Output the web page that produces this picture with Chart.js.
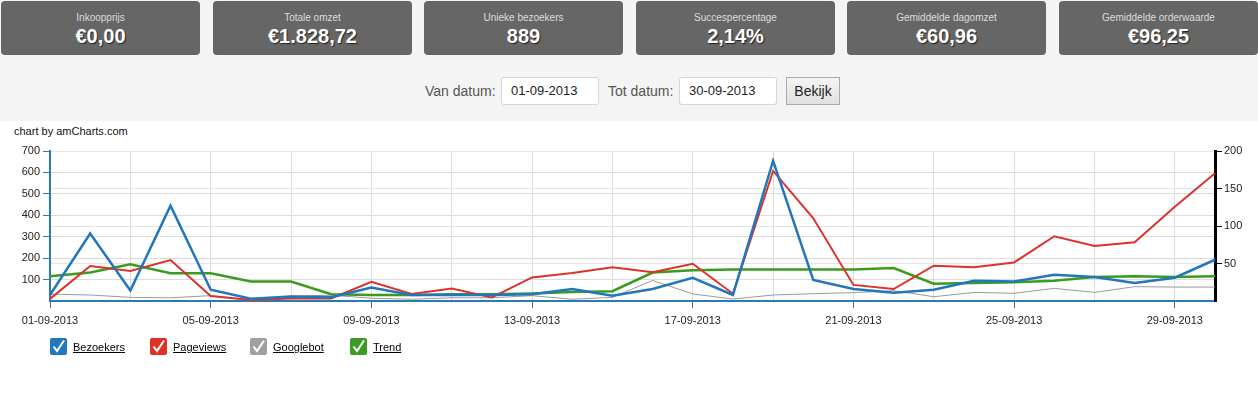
<!DOCTYPE html>
<html>
<head>
<meta charset="utf-8">
<script src="https://cdn.jsdelivr.net/npm/chart.js@4.4.0/dist/chart.umd.min.js"></script>
<style>
  html, body { margin: 0; padding: 0; }
  body { width: 1258px; height: 399px; background: #f4f4f4; position: relative; overflow: hidden;
         font-family: "Liberation Sans", Arial, sans-serif; }
  .kaart { position: absolute; top: 1px; width: 199px; height: 54px; background: #666; border-radius: 4px;
           text-align: center; color: #fff; }
  .kaart .lbl { position: absolute; left: 0; right: 0; top: 11px; font-size: 10px; color: #ddd; }
  .kaart .val { position: absolute; left: 0; right: 0; top: 24px; font-size: 20px; font-weight: bold;
                text-shadow: 1px 1px 1px #222; }
  .form { position: absolute; top: 77px; height: 28px; font-size: 14px; color: #555; line-height: 28px; }
  .invoer { position: absolute; top: 77px; background: #fff; border: 1px solid #d6d6d6;
            border-radius: 3px; font-size: 13px; color: #222; line-height: 26px; padding-left: 9px; box-sizing: border-box; width: 98px; height: 28px; }
  .knop { position: absolute; left: 786px; top: 77px; width: 54px; height: 28px; box-sizing: border-box;
          border: 1px solid #aaa; background: linear-gradient(#f4f4f4, #e0e0e0); font-size: 14px; color: #222;
          text-align: center; line-height: 26px; }
  #paneel { position: absolute; left: 0; top: 121px; width: 1258px; height: 278px; background: #fff; border-radius: 2px 0 0 0; }
  #credit { position: absolute; left: 14px; top: 125px; font-size: 11px; color: #111; }
  #grafiek { position: absolute; left: 0; top: 140px; width: 1258px; height: 200px; }
  #legenda { position: absolute; left: 0; top: 338px; height: 18px; }
  .item { position: absolute; top: 0; height: 18px; font-size: 11px; color: #000; }
  .item .box { position: absolute; left: 0; top: 0; width: 17px; height: 17px; border-radius: 2px; }
  .item .box svg { position: absolute; left: 0; top: 0; }
  .item .tekst { position: absolute; left: 23px; top: 3px; text-decoration: underline; white-space: nowrap; }
</style>
</head>
<body>
<div id="kaarten"></div>

<div class="form" style="left:425px">Van datum:</div>
<div class="invoer" style="left:501px">01-09-2013</div>
<div class="form" style="left:608px">Tot datum:</div>
<div class="invoer" style="left:679px">30-09-2013</div>
<div class="knop">Bekijk</div>

<div id="paneel"></div>
<div id="credit">chart by amCharts.com</div>
<div id="grafiek"><canvas id="cv"></canvas></div>
<div id="legenda"></div>

<script>
// kerncijfers
var kaartLabels = ['Inkoopprijs', 'Totale omzet', 'Unieke bezoekers', 'Succespercentage', 'Gemiddelde dagomzet', 'Gemiddelde orderwaarde'];
var kaartWaarden = ['€0,00', '€1.828,72', '889', '2,14%', '€60,96', '€96,25'];

// grafiekdata
var dagen = ['01-09-2013','02-09-2013','03-09-2013','04-09-2013','05-09-2013','06-09-2013','07-09-2013','08-09-2013',
             '09-09-2013','10-09-2013','11-09-2013','12-09-2013','13-09-2013','14-09-2013','15-09-2013','16-09-2013',
             '17-09-2013','18-09-2013','19-09-2013','20-09-2013','21-09-2013','22-09-2013','23-09-2013','24-09-2013',
             '25-09-2013','26-09-2013','27-09-2013','28-09-2013','29-09-2013','30-09-2013'];
var bezoekers = [8, 90, 14, 127, 15, 3, 6, 5, 18, 8, 8, 8, 9, 16, 7, 16, 31, 8, 187, 28, 16, 11, 15, 27, 26, 35, 32, 24, 31, 55];
var pageviews = [10, 163, 140, 191, 23, 5, 12, 12, 90, 33, 58, 17, 110, 131, 157, 134, 174, 34, 607, 386, 75, 56, 165, 157, 180, 302, 257, 274, 440, 596];
var googlebot = [32, 28, 17, 15, 25, 5, 23, 27, 13, 8, 15, 15, 25, 8, 17, 96, 33, 9, 28, 34, 39, 48, 20, 40, 36, 59, 40, 67, 65, 65];
var trend = [33, 38, 49, 37, 37, 26, 26, 9, 8, 8, 9, 9, 10, 12, 13, 38, 41, 42, 42, 42, 42, 44, 23, 24, 25, 27, 32, 33, 32, 33];
var linksTicks = [100, 200, 300, 400, 500, 600, 700];
var rechtsTicks = [50, 100, 150, 200];

var blauw = '#2177bd', rood = '#dc3229', grijs = '#9a9a9a', groen = '#3a9b1f';
var asBlauw = '#2a7ab5';
var lettertype = '"Liberation Sans", Arial, sans-serif';

// kaarten opbouwen
var html = '';
for (var i = 0; i < kaartLabels.length; i++) {
  var links = Math.round(1 + i * 211.6);
  html += '<div class="kaart" style="left:' + links + 'px"><div class="lbl">' + kaartLabels[i] +
          '</div><div class="val">' + kaartWaarden[i] + '</div></div>';
}
document.getElementById('kaarten').innerHTML = html;

var datasets = [
  { label: 'Bezoekers', data: bezoekers, borderColor: blauw, backgroundColor: blauw, borderWidth: 2.5, yAxisID: 'y1', order: 1 },
  { label: 'Pageviews', data: pageviews, borderColor: rood, backgroundColor: rood, borderWidth: 2, yAxisID: 'y', order: 2 },
  { label: 'Googlebot', data: googlebot, borderColor: grijs, backgroundColor: grijs, borderWidth: 1, yAxisID: 'y', order: 4 },
  { label: 'Trend', data: trend, borderColor: groen, backgroundColor: groen, borderWidth: 2.5, yAxisID: 'y1', order: 3 }
];

var ctx = document.getElementById('cv').getContext('2d');
new Chart(ctx, {
  type: 'line',
  data: { labels: dagen, datasets: datasets },
  options: {
    responsive: true,
    maintainAspectRatio: false,
    animation: false,
    layout: { padding: { top: 11, left: 0, right: 0, bottom: 0 } },
    elements: { point: { radius: 0 }, line: { tension: 0 } },
    plugins: { legend: { display: false }, tooltip: { enabled: false } },
    scales: {
      x: {
        type: 'category',
        offset: false,
        grid: {
          color: function(c) { return c.index % 2 === 0 ? '#dcdcdc' : 'transparent'; },
          tickColor: function(c) { return c.index % 4 === 0 ? asBlauw : 'transparent'; },
          tickLength: 7
        },
        border: { color: asBlauw, width: 2 },
        ticks: {
          autoSkip: false, maxRotation: 0, padding: 6, color: '#222',
          font: { family: lettertype, size: 11 },
          callback: function(v, i) { return i % 4 === 0 ? dagen[i] : ''; }
        },
        afterFit: function(s) { s.height = 39; }
      },
      y: {
        position: 'left', min: 0, max: 700,
        afterBuildTicks: function(s) { s.ticks = [{ value: 0 }].concat(linksTicks.map(function(v) { return { value: v }; })); },
        grid: {
          color: '#dcdcdc',
          tickColor: function(c) { return c.tick && c.tick.value === 0 ? 'transparent' : asBlauw; },
          tickLength: 7
        },
        border: { color: asBlauw, width: 2 },
        ticks: {
          padding: 3, color: '#222', font: { family: lettertype, size: 11 },
          callback: function(v) { return v === 0 ? '' : v; }
        },
        afterFit: function(s) { s.width = 50; }
      },
      y1: {
        position: 'right', min: 0, max: 200,
        afterBuildTicks: function(s) { s.ticks = [{ value: 0 }].concat(rechtsTicks.map(function(v) { return { value: v }; })); },
        grid: {
          color: '#e4e4e4',
          tickColor: function(c) { return c.tick && c.tick.value === 0 ? 'transparent' : '#000'; },
          tickLength: 7
        },
        border: { color: '#000', width: 3 },
        ticks: {
          padding: 2, color: '#222', font: { family: lettertype, size: 11 },
          callback: function(v) { return v === 0 ? '' : v; }
        },
        afterFit: function(s) { s.width = 43; }
      }
    }
  }
});

// legenda
var vinkje = '<svg width="17" height="17" viewBox="0 0 17 17"><path d="M3.5 8.5 L7 13 L14 2.5" fill="none" stroke="#fff" stroke-width="2"/></svg>';
var leg = '';
var legKleuren = ['#1f78c1', '#e03127', '#a0a0a0', '#3a9d23'];
datasets.forEach(function(d, i) {
  leg += '<div class="item" style="left:' + (50 + i * 100) + 'px"><div class="box" style="background:' + legKleuren[i] + '">' +
         vinkje + '</div><div class="tekst">' + d.label + '</div></div>';
});
document.getElementById('legenda').innerHTML = leg;
</script>
</body>
</html>
